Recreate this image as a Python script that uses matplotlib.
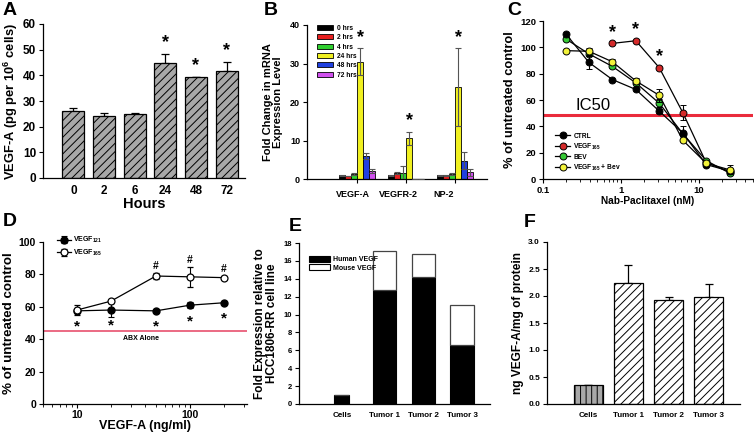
import numpy as np
import matplotlib
matplotlib.use('Agg')
import matplotlib.pyplot as plt
from matplotlib.lines import Line2D
from matplotlib.patches import Patch

plt.rcParams['font.family'] = ['Liberation Sans', 'DejaVu Sans']
plt.rcParams['font.weight'] = 'bold'
plt.rcParams['axes.labelweight'] = 'bold'
plt.rcParams['hatch.linewidth'] = 0.7
plt.rcParams['mathtext.fontset'] = 'custom'
plt.rcParams['mathtext.rm'] = 'Liberation Sans:bold'
plt.rcParams['mathtext.it'] = 'Liberation Sans:bold'
plt.rcParams['mathtext.bf'] = 'Liberation Sans:bold'
plt.rcParams['mathtext.default'] = 'rm'

# ---- A: secreted VEGF-A over time
a_hours = ['0', '2', '6', '24', '48', '72']
a_vegf = [26.0, 24.2, 25.0, 45.0, 39.3, 41.5]
a_err = [1.2, 1.3, 0.4, 3.5, 0.0, 3.8]
a_sig = [False, False, False, True, True, True]

# ---- B: mRNA fold change
b_genes = ['VEGF-A', 'VEGFR-2', 'NP-2']
b_times = ['0 hrs', '2 hrs', '4 hrs', '24 hrs', '48 hrs', '72 hrs']
b_0h = [1.0, 1.0, 1.0]
b_2h = [0.8, 1.6, 0.9]
b_4h = [1.3, 1.5, 1.3]
b_24h = [30.5, 10.6, 23.8]
b_48h = [6.0, 0.0, 4.8]
b_72h = [2.0, 0.0, 1.8]
b_0h_err = [0.1, 0.1, 0.1]
b_2h_err = [0.1, 0.2, 0.1]
b_4h_err = [0.2, 2.0, 0.2]
b_24h_err = [3.5, 1.7, 10.1]
b_48h_err = [0.8, 0.0, 2.1]
b_72h_err = [0.5, 0.0, 0.9]
b_sig = [True, True, True]

# ---- C: viability vs nab-paclitaxel
c_nab = [0.195, 0.39, 0.78, 1.56, 3.125, 6.25, 12.5, 25]
c_ctrl = [110.5, 88.5, 75.5, 68.0, 51.5, 35.0, 11.0, 6.0]
c_ctrl_err = [0, 5.0, 0, 1.0, 1.5, 0, 0, 0]
c_vegf165 = [np.nan, np.nan, 103.0, 105.0, 84.5, 50.5, 12.5, 5.5]
c_vegf165_err = [0, 0, 0, 0, 0, 5.5, 0, 0]
c_bev = [106.5, 95.0, 85.5, 73.0, 57.5, 34.5, 14.0, 4.5]
c_bev_err = [0, 0, 1.5, 0, 3.0, 6.0, 0, 0]
c_combo = [97.5, 97.0, 89.0, 74.5, 63.5, 29.5, 12.0, 7.0]
c_combo_err = [0, 2.5, 2.0, 2.0, 5.0, 0, 0, 3.5]
c_sig_x = [0.78, 1.56, 3.125]
c_sig_y = [103.0, 105.0, 84.5]
c_ic50 = 48.5

# ---- D: rescue by VEGF isoforms
d_vegfa = [10, 20, 50, 100, 200]
d_121 = [57.5, 58.0, 57.5, 61.0, 62.5]
d_121_err = [0.5, 4.5, 1.0, 2.0, 1.0]
d_165 = [58.0, 63.5, 79.0, 78.5, 78.0]
d_165_err = [3.0, 1.0, 2.0, 6.0, 1.0]
d_hash_x = [50, 100, 200]
d_abx = 45

# ---- E: human vs mouse VEGF in tumors
e_groups = ['Cells', 'Tumor 1', 'Tumor 2', 'Tumor 3']
e_human = [1.0, 12.8, 14.2, 6.6]
e_mouse = [0.0, 4.3, 2.6, 4.5]

# ---- F: VEGF-A protein
f_groups = ['Cells', 'Tumor 1', 'Tumor 2', 'Tumor 3']
f_vegf = [0.35, 2.25, 1.93, 1.98]
f_err = [0.01, 0.33, 0.05, 0.25]

W, H = 754, 433
fig = plt.figure(figsize=(W / 100, H / 100), dpi=100)


def px_axes(left, top, right, bottom):
    return fig.add_axes([left / W, 1 - bottom / H, (right - left) / W, (bottom - top) / H])


def style(ax, fs):
    for s in ['top', 'right']:
        ax.spines[s].set_visible(False)
    for s in ['left', 'bottom']:
        ax.spines[s].set_linewidth(0.9)
    ax.tick_params(labelsize=fs, width=0.8, length=3, pad=2)
    for lab in ax.get_xticklabels() + ax.get_yticklabels():
        lab.set_fontweight('bold')


# ================= A
axA = px_axes(43, 24, 245, 178)
xa = np.arange(len(a_hours))
axA.bar(xa, a_vegf, 0.72, color='#a8a8a8', edgecolor='black', linewidth=0.9,
        hatch='////', zorder=2)
axA.errorbar(xa, a_vegf, yerr=[np.zeros(len(a_err)), a_err], fmt='none',
             ecolor='black', elinewidth=0.9, capsize=3, capthick=0.9, zorder=1)
for x, v, e, s in zip(xa, a_vegf, a_err, a_sig):
    if s:
        axA.text(x, v + e + 1.0, '*', ha='center', va='bottom', fontsize=13)
axA.set_xlim(-0.99, 5.6)
axA.set_ylim(0, 60)
axA.set_yticks(range(0, 61, 10))
axA.set_xticks(xa)
axA.set_xticklabels(a_hours)
axA.set_xlabel('Hours', fontsize=10.5, labelpad=0)
axA.set_ylabel('VEGF-A (pg per 10$^{6}$ cells)', fontsize=9.3, labelpad=2)
style(axA, 8.5)
axA.tick_params(axis='x', length=0, pad=5)

# ================= B
axB = px_axes(307, 25, 487, 179)
xb = np.arange(len(b_genes))
bw = 0.122
b_vals = [b_0h, b_2h, b_4h, b_24h, b_48h, b_72h]
b_errs = [b_0h_err, b_2h_err, b_4h_err, b_24h_err, b_48h_err, b_72h_err]
b_colors = ['black', '#e82020', '#30d030', '#f0f020', '#2040e0', '#d050ee']
for i, (vals, errs, col, lab) in enumerate(zip(b_vals, b_errs, b_colors, b_times)):
    pos = xb + (i - 2.5) * bw
    axB.bar(pos, vals, bw, color=col, edgecolor='black', linewidth=0.6, label=lab, zorder=2)
    errs_plot = np.where(np.array(vals) > 0, errs, 0)
    axB.errorbar(pos, vals, yerr=errs_plot, fmt='none', ecolor='#555555',
                 elinewidth=0.8, capsize=2, capthick=0.8, zorder=3)
for g, s in zip(xb, b_sig):
    if s:
        axB.text(g + 0.5 * bw, b_24h[g] + b_24h_err[g] + 0.6, '*', ha='center',
                 va='bottom', fontsize=13)
axB.set_xlim(-1.02, 2.65)
axB.set_ylim(0, 40)
axB.set_yticks(range(0, 41, 10))
axB.set_xticks(xb)
axB.set_xticklabels([])
axB.set_xticks(xb - 0.08 * np.arange(1, 4), minor=True)
axB.set_xticklabels(b_genes, minor=True)
axB.set_ylabel('Fold Change in mRNA\nExpression Level', fontsize=8, labelpad=5,
               linespacing=1.0)
style(axB, 6.5)
axB.tick_params(axis='x', which='minor', length=0, labelsize=6.5, pad=8)
for lab in axB.get_xticklabels(minor=True):
    lab.set_fontweight('bold')
axB.legend(loc='upper left', bbox_to_anchor=(0.02, 1.04), frameon=False, fontsize=4.8,
           handlelength=2.4, handleheight=0.8, labelspacing=0.35, handletextpad=0.6)

# ================= C
axC = px_axes(543, 21, 753, 179)
c_series = [
    (c_ctrl, c_ctrl_err, 'black', 'CTRL'),
    (c_vegf165, c_vegf165_err, '#d42a2a', 'VEGF$_{165}$'),
    (c_bev, c_bev_err, '#34c834', 'BEV'),
    (c_combo, c_combo_err, '#f2f23a', 'VEGF$_{165}$ + Bev'),
]
axC.axhline(c_ic50, color='#ea2b3c', lw=2.2, zorder=1)
axC.text(0.26, c_ic50 + 1.5, 'IC50', fontsize=12, fontweight='normal', va='bottom')
for order, (vals, errs, col, lab) in zip([5, 3, 4, 6], c_series):
    axC.errorbar(c_nab, vals, yerr=errs, color='black', lw=0.9, marker='o', ms=5,
                 mfc=col, mec='black', mew=0.7, ecolor='black', elinewidth=0.8,
                 capsize=2, capthick=0.8, zorder=order)
for x, y in zip(c_sig_x, c_sig_y):
    axC.text(x, y + 2, '*', ha='center', va='bottom', fontsize=13)
axC.set_xscale('log')
axC.set_xlim(0.1, 50)
axC.set_ylim(0, 120)
axC.set_yticks(range(0, 121, 20))
axC.set_xticks([0.1, 1, 10])
axC.set_xticklabels(['0.1', '1', '10'])
axC.set_xlabel('Nab-Paclitaxel (nM)', fontsize=7.3, labelpad=1)
axC.set_ylabel('% of untreated control', fontsize=9.3, labelpad=3)
style(axC, 6.8)
axC.tick_params(which='minor', length=1.8, width=0.6)
c_handles = [Line2D([], [], color='black', lw=0.9, marker='o', ms=5, mfc=col, mec='black',
                    mew=0.7) for _, _, col, _ in c_series]
axC.legend(c_handles, [s[3] for s in c_series], loc='lower left',
           bbox_to_anchor=(0.03, 0.0), frameon=False, fontsize=4.8, handlelength=2.2,
           labelspacing=0.3, handletextpad=0.5)

# ================= D
axD = px_axes(43, 242, 247, 404)
axD.axhline(d_abx, color='#e8506e', lw=1.2, zorder=1)
axD.text(37, d_abx - 2.5, 'ABX Alone', fontsize=5, ha='center', va='top')
axD.errorbar(d_vegfa, d_121, yerr=d_121_err, color='black', lw=0.9, marker='o', ms=5,
             mfc='black', mec='black', ecolor='black', elinewidth=0.8, capsize=2,
             capthick=0.8, label='VEGF$_{121}$', zorder=3)
axD.errorbar(d_vegfa, d_165, yerr=d_165_err, color='black', lw=0.9, marker='o', ms=5,
             mfc='white', mec='black', mew=0.9, ecolor='black', elinewidth=0.8, capsize=2,
             capthick=0.8, label='VEGF$_{165}$', zorder=4)
for x, v in zip(d_vegfa, d_121):
    axD.text(x, v - 5.5, '*', ha='center', va='top', fontsize=11)
for x in d_hash_x:
    i = d_vegfa.index(x)
    axD.text(x, d_165[i] + d_165_err[i] + 1.0, '#', ha='center', va='bottom', fontsize=7.5)
axD.set_xscale('log')
axD.set_xlim(5, 320)
axD.set_ylim(0, 100)
axD.set_yticks(range(0, 101, 20))
axD.set_xticks([10, 100])
axD.set_xticklabels(['10', '100'])
axD.set_xlabel('VEGF-A (ng/ml)', fontsize=9, labelpad=-0.5)
axD.set_ylabel('% of untreated control', fontsize=9.6, labelpad=3)
style(axD, 7.5)
axD.tick_params(which='minor', length=1.8, width=0.6)
axD.tick_params(axis='x', pad=1.5)
hD, lD = axD.get_legend_handles_labels()
axD.legend(hD, lD, loc='upper left', bbox_to_anchor=(0.04, 1.08), frameon=False,
           fontsize=5, handlelength=2.0, labelspacing=0.3, handletextpad=0.3)

# ================= E
axE = px_axes(299, 243, 490, 404)
xe = np.arange(len(e_groups))
e_width = [0.39, 0.6, 0.6, 0.6]
axE.bar(xe, e_human, e_width, align='edge', color='black', edgecolor='black',
        linewidth=0.8, label='Human VEGF', zorder=2)
axE.bar(xe, e_mouse, e_width, bottom=e_human, align='edge', color='white',
        edgecolor='#444444', linewidth=0.9, label='Mouse VEGF', zorder=2)
axE.set_xlim(-0.91, 4.02)
axE.set_ylim(0, 18)
axE.set_yticks(range(0, 19, 2))
axE.set_xticks(xe + np.array(e_width) / 2)
axE.set_xticklabels(e_groups)
axE.set_ylabel('Fold Expression relative to\nHCC1806-RR cell line', fontsize=8.5,
               labelpad=4, linespacing=1.0)
style(axE, 5.5)
axE.tick_params(axis='x', length=0, labelsize=5.8, pad=6)
axE.legend(handles=[Patch(facecolor='black', edgecolor='black', lw=0.8),
                    Patch(facecolor='white', edgecolor='black', lw=0.8)],
           labels=['Human VEGF', 'Mouse VEGF'], loc='upper left',
           bbox_to_anchor=(0.02, 0.96), frameon=False, fontsize=5,
           handlelength=3.0, handleheight=1.0, labelspacing=0.15, handletextpad=0.5)

# ================= F
axF = px_axes(547, 242, 740, 404)
xf = np.arange(len(f_groups))
f_face = ['#a8a8a8', 'white', 'white', 'white']
f_hatch = ['|||', '////', '////', '////']
for x, v, fc, ht in zip(xf, f_vegf, f_face, f_hatch):
    axF.bar(x, v, 0.72, color=fc, edgecolor='black', linewidth=0.9, hatch=ht, zorder=2)
axF.errorbar(xf, f_vegf, yerr=[np.zeros(len(f_err)), f_err], fmt='none', ecolor='black',
             elinewidth=0.9, capsize=3, capthick=0.9, zorder=1)
axF.set_xlim(-1.02, 3.77)
axF.set_ylim(0, 3.0)
axF.set_yticks(np.arange(0, 3.01, 0.5))
axF.set_yticklabels([f'{v:.1f}' for v in np.arange(0, 3.01, 0.5)])
axF.set_xticks(xf)
axF.set_xticklabels(f_groups)
axF.set_ylabel('ng VEGF-A/mg of protein', fontsize=8.6, labelpad=3)
style(axF, 6)
axF.tick_params(axis='x', length=0, labelsize=5.8, pad=6)

# panel letters
for lab, x, y in [('A', 3, 2), ('B', 264, 2), ('C', 507, 2), ('D', 3, 213),
                  ('E', 289, 218), ('F', 524, 214)]:
    fig.text(x / W, 1 - y / H, lab, fontsize=14, fontweight='bold', va='top', ha='left')

fig.savefig('out.png', dpi=100)
